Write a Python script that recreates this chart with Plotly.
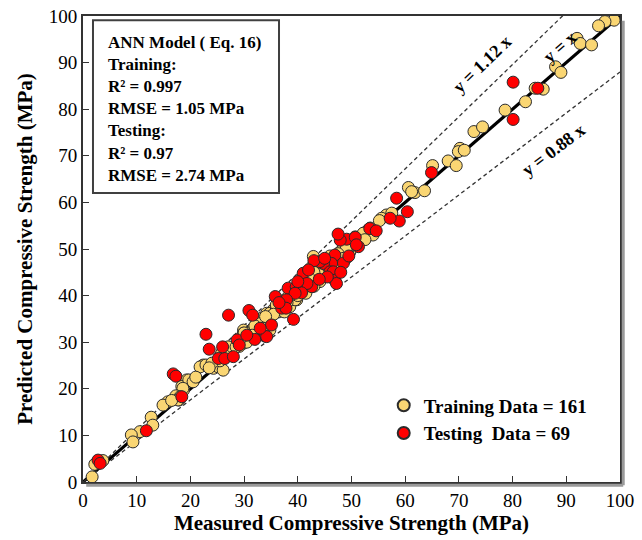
import plotly.graph_objects as go

# ---------------- data ----------------
train_measured = [
    98.9, 97.2, 96.0, 92.0, 92.6, 94.7, 88.0, 89.0, 84.2, 85.7, 82.4, 78.6, 72.8, 74.4,
    70.2, 69.9, 71.0, 68.0, 69.5, 65.1, 60.6, 61.8, 63.6, 61.2,
    56.5, 57.5, 55.6, 55.2, 53.1, 54.0, 51.9, 50.7, 48.8, 49.7, 48.2, 50.7, 49.7, 51.6, 52.2,
    43.2, 42.9, 43.8, 45.1, 43.5, 44.1, 38.9, 39.8, 35.4, 36.4, 34.2, 34.8,
    22.4, 21.8, 24.3, 24.9, 26.1, 26.8, 29.9, 30.5, 31.4, 29.9, 32.3, 33.6, 34.8, 33.3,
    36.7, 38.5, 39.5, 19.3, 18.4, 18.7,
    19.7, 18.6, 17.3, 17.9, 15.8, 14.9, 12.7, 13.0, 10.6, 9.0, 9.3, 2.2, 3.7, 1.7,
    22.9, 25.2, 26.1, 25.8, 26.8, 29.9, 31.1, 31.7, 33.3, 34.8, 33.9, 29.1, 18.1, 17.7,
    40.5, 41.5, 42.0, 42.5, 43.0, 44.5, 45.5, 46.0, 46.5, 47.0, 47.5, 48.0, 49.0, 45.0,
    44.0, 41.0, 40.0, 38.0, 37.5, 36.0, 35.0, 33.0, 32.5, 31.0, 30.0, 29.0, 28.0, 27.5,
    27.0, 25.5, 24.0, 23.5, 20.5, 21.0, 16.5, 50.0, 52.5, 53.5, 49.0, 46.0, 44.5, 43.5,
    42.5, 41.5, 40.5, 39.0, 38.5, 37.0, 36.0, 34.5, 32.0, 30.5, 29.5, 28.5, 26.5, 47.5,
    48.5, 45.5, 44.0, 43.0, 42.0, 41.0, 39.5, 38.0, 37.5, 35.5, 34.0, 33.5, 31.5, 30.0,
]
train_predicted = [
    99.1, 98.8, 97.9, 95.2, 94.1, 93.8, 89.1, 87.9, 84.5, 84.3, 81.6, 79.8, 75.2, 76.2,
    71.6, 70.9, 71.2, 68.9, 67.9, 67.9, 63.2, 62.1, 62.5, 62.3,
    57.3, 57.7, 56.6, 56.1, 54.1, 53.0, 52.5, 50.9, 50.5, 49.4, 48.7, 52.6, 50.5, 51.9, 53.4,
    47.6, 48.4, 45.9, 45.1, 44.1, 43.0, 39.8, 39.1, 36.9, 36.5, 36.2, 32.6,
    25.1, 24.7, 24.4, 25.1, 28.3, 27.6, 29.8, 31.5, 32.6, 32.6, 34.1, 34.1, 36.2, 35.1,
    37.6, 37.6, 39.1, 21.9, 20.5, 19.7,
    21.9, 20.1, 18.5, 17.6, 17.2, 16.5, 13.9, 12.2, 10.8, 10.1, 8.6, 3.8, 4.6, 1.1,
    25.1, 24.7, 24.0, 27.6, 28.3, 31.9, 32.3, 33.0, 35.1, 36.2, 34.1, 29.1, 18.3, 17.6,
    41.0, 40.5, 43.0, 44.5, 42.0, 45.5, 46.5, 47.5, 46.0, 48.0, 47.0, 49.5, 48.0, 47.0,
    46.0, 42.0, 40.0, 38.5, 39.0, 37.0, 35.5, 34.0, 33.0, 32.0, 31.0, 30.0, 28.5, 28.0,
    29.0, 26.0, 25.5, 24.5, 21.5, 22.5, 17.5, 51.0, 52.0, 54.5, 50.0, 48.5, 47.0, 46.5,
    46.0, 43.5, 42.5, 40.5, 40.0, 38.0, 38.0, 35.0, 33.5, 30.0, 31.0, 29.0, 27.0, 49.0,
    48.0, 44.5, 44.5, 45.0, 44.0, 41.5, 41.5, 39.5, 36.5, 36.0, 35.5, 33.0, 31.5, 32.0,
]
test_measured = [
    80.1, 84.7, 80.1, 64.9, 58.4, 60.4, 58.9, 57.2, 53.4, 54.6, 49.1, 50.7, 47.9, 51.3,
    47.5, 50.9, 46.9, 46.3, 44.8, 44.1, 46.0, 46.6, 46.9, 47.2, 41.0, 42.6, 41.7, 38.2,
    39.7, 40.7, 39.5, 35.8, 37.9, 37.0, 37.8, 35.1, 39.2, 33.9, 27.1, 22.9, 23.5, 28.7,
    29.1, 25.2, 26.4, 28.0, 32.0, 34.2, 30.9, 31.6, 16.8, 17.3, 18.4, 11.8, 2.8, 3.2,
    43.0, 45.5, 48.5, 44.0, 42.0, 49.5, 36.5, 33.0, 30.5, 45.0, 40.0, 26.0, 48.0,
]
test_predicted = [
    85.8, 84.5, 77.8, 66.4, 60.9, 58.0, 56.0, 56.6, 54.4, 53.9, 52.1, 52.5, 51.9, 50.5,
    53.2, 50.9, 48.7, 46.9, 46.9, 47.3, 45.1, 45.1, 43.3, 42.6, 44.8, 41.9, 42.6, 41.6,
    41.9, 40.6, 40.5, 39.8, 39.1, 37.3, 37.3, 33.7, 34.9, 31.3, 35.8, 31.7, 28.5, 30.5,
    29.4, 26.5, 26.5, 26.9, 30.6, 31.2, 36.8, 35.8, 23.2, 22.7, 18.3, 11.0, 4.7, 4.0,
    47.5, 44.0, 47.0, 43.5, 45.5, 48.5, 38.5, 33.0, 31.5, 48.0, 43.0, 29.0, 45.0,
]
ref_x = [0, 100]
ratio_labels = ["y = 1.12 x", "y = x", "y = 0.88 x"]
ratios = [1.12, 1.0, 0.88]
tick_vals = [0, 10, 20, 30, 40, 50, 60, 70, 80, 90, 100]
box_lines = ["ANN Model ( Eq. 16)", "Training:", "R² = 0.997", "RMSE = 1.05 MPa",
             "Testing:", "R² = 0.97", "RMSE = 2.74 MPa"]
legend_names = ["Training Data = 161", "Testing\u00a0 Data = 69"]

FONT = "Liberation Serif"

fig = go.Figure()

# reference lines
for r in ratios:
    if r == 1.0:
        fig.add_trace(go.Scatter(x=ref_x, y=[v * r for v in ref_x], mode="lines",
                                 line=dict(color="black", width=3.2), showlegend=False,
                                 hoverinfo="skip"))
    else:
        fig.add_trace(go.Scatter(x=ref_x, y=[v * r for v in ref_x], mode="lines",
                                 line=dict(color="#333333", width=1.3, dash="4px,3px"),
                                 showlegend=False, hoverinfo="skip"))

fig.add_trace(go.Scatter(x=train_measured, y=train_predicted, mode="markers",
                         name=f"<b>{legend_names[0]}</b>",
                         marker=dict(size=12, color="#FAD673",
                                     line=dict(color="#2b2b2b", width=1))))
fig.add_trace(go.Scatter(x=test_measured, y=test_predicted, mode="markers",
                         name=f"<b>{legend_names[1]}</b>",
                         marker=dict(size=12, color="#FF0000",
                                     line=dict(color="#2b2b2b", width=1))))

# line labels
label_pos = [(74.3, 89.8, -44), (88.8, 93.4, -41), (87.6, 71.2, -37)]
for (lx, ly, ang), txt in zip(label_pos, ratio_labels):
    fig.add_annotation(x=lx, y=ly, text=f"<b>{txt}</b>", showarrow=False,
                       textangle=ang, font=dict(family=FONT, size=18, color="black"))

# info box
fig.add_shape(type="rect", xref="paper", yref="paper", x0=0.0186, x1=0.365,
              y0=0.620, y1=0.991, line=dict(color="#404040", width=2),
              fillcolor="white", layer="below")
fig.add_annotation(xref="paper", yref="paper", x=0.043, y=0.968, xanchor="left",
                   yanchor="top", align="left", showarrow=False,
                   text="<br>".join(f"<b>{t}</b>" for t in box_lines),
                   font=dict(family=FONT, size=17, color="black"))

# frame shadow
fig.add_shape(type="line", xref="paper", yref="paper", x0=0.006, x1=1.006,
              y0=-0.007, y1=-0.007, line=dict(color="#9a9a9a", width=3))
fig.add_shape(type="line", xref="paper", yref="paper", x0=1.006, x1=1.006,
              y0=-0.007, y1=0.99, line=dict(color="#9a9a9a", width=3))

axis_common = dict(range=[0, 100], tickvals=tick_vals, ticks="inside", ticklen=6,
                   tickwidth=1.2, tickcolor="#333333", showgrid=False, zeroline=False,
                   showline=True, linecolor="#333333", linewidth=2, mirror=True,
                   automargin=False, tickprefix="<b>", ticksuffix="</b>",
                   tickfont=dict(family=FONT, size=19, color="black"))

fig.update_xaxes(**axis_common,
                 title=dict(text="<b>Measured Compressive Strength (MPa)</b>",
                            font=dict(family=FONT, size=21, color="black"), standoff=6))
fig.update_yaxes(**axis_common,
                 title=dict(text="<b>Predicted Compressive Strength (MPa)</b>",
                            font=dict(family=FONT, size=21, color="black"), standoff=10))

fig.update_layout(
    width=642, height=540,
    margin=dict(l=83, r=22, t=16, b=58, autoexpand=False),
    paper_bgcolor="white", plot_bgcolor="white",
    legend=dict(x=0.56, y=0.205, xanchor="left", yanchor="top",
                bgcolor="rgba(0,0,0,0)", itemsizing="constant",
                font=dict(family=FONT, size=19, color="black"),
                tracegroupgap=2, itemwidth=30),
    font=dict(family=FONT),
)

fig.write_html("out.html", config={"displayModeBar": False},
               post_script="document.body.style.margin='0';document.body.style.padding='0';")
